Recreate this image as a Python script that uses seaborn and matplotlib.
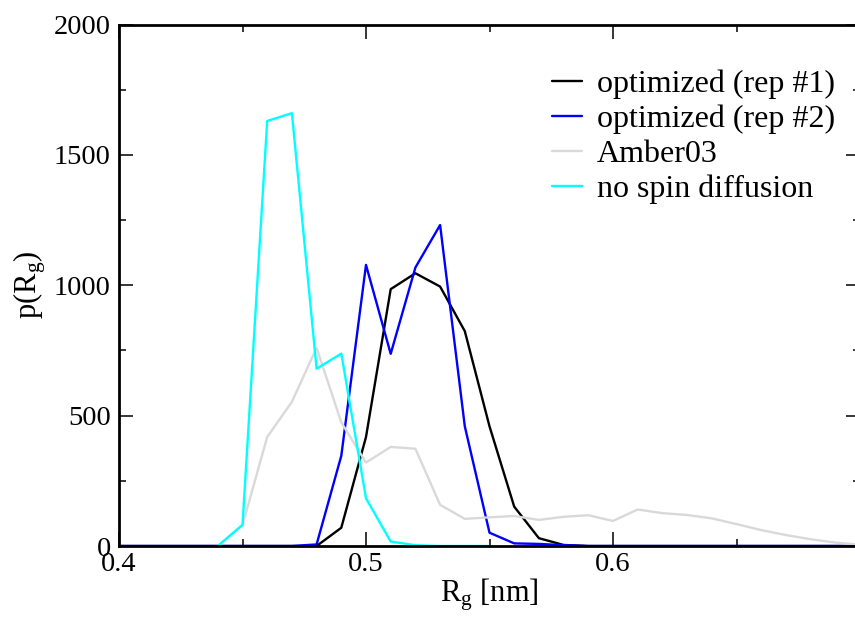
import numpy as np
import pandas as pd
import matplotlib
matplotlib.use('Agg')
import matplotlib.pyplot as plt
import seaborn as sns
from matplotlib.ticker import MultipleLocator

# Rg grid (nm)
rg_opt = [0.40, 0.41, 0.42, 0.43, 0.44, 0.45, 0.46, 0.47, 0.48, 0.49, 0.50,
          0.51, 0.52, 0.53, 0.54, 0.55, 0.56, 0.57, 0.58, 0.59, 0.60,
          0.61, 0.62, 0.63, 0.64, 0.65, 0.66, 0.67, 0.68, 0.69, 0.70]
rep1 = [0, 0, 0, 0, 0, 0, 0, 0, 0, 70, 418,
        985, 1046, 995, 824, 459, 151, 30, 4, 0, 0,
        0, 0, 0, 0, 0, 0, 0, 0, 0, 0]
rep2 = [0, 0, 0, 0, 0, 0, 0, 0, 6, 346, 1078,
        737, 1068, 1231, 459, 51, 10, 8, 3, 0, 0,
        0, 0, 0, 0, 0, 0, 0, 0, 0, 0]

rg_amber = [0.44, 0.45, 0.46, 0.47, 0.48, 0.49, 0.50, 0.51, 0.52, 0.53, 0.54,
            0.55, 0.56, 0.57, 0.58, 0.59, 0.60, 0.61, 0.62, 0.63, 0.64,
            0.65, 0.66, 0.67, 0.68, 0.69, 0.70]
amber03 = [0, 80, 418, 553, 760, 474, 320, 380, 373, 158, 104,
           110, 115, 100, 112, 118, 96, 140, 126, 119, 106,
           84, 61, 42, 26, 13, 5]

rg_nospin = [0.44, 0.45, 0.46, 0.47, 0.48, 0.49, 0.50, 0.51, 0.52, 0.53, 0.54, 0.55]
nospin = [0, 81, 1630, 1660, 680, 738, 183, 17, 3, 0, 0, 0]

labels = ['optimized (rep #1)', 'optimized (rep #2)', 'Amber03', 'no spin diffusion']
colors = ['black', 'blue', '#d9d9d9', 'cyan']

sns.set_style('ticks')
plt.rcParams['font.family'] = ['Liberation Serif', 'DejaVu Serif']
plt.rcParams['mathtext.fontset'] = 'custom'
plt.rcParams['mathtext.rm'] = 'Liberation Serif'
plt.rcParams['mathtext.it'] = 'Liberation Serif:italic'
plt.rcParams['text.color'] = 'black'
plt.rcParams['axes.labelcolor'] = 'black'
plt.rcParams['xtick.color'] = 'black'
plt.rcParams['ytick.color'] = 'black'

fig = plt.figure(figsize=(8.55, 6.18), dpi=100)
# the right spine sits just past the image edge, as in the original
ax = fig.add_axes([119 / 855, 72 / 618, 741 / 855, 521.5 / 618])

series = [(rg_opt, rep1), (rg_opt, rep2), (rg_amber, amber03), (rg_nospin, nospin)]
for (xs, ys), lab, col in zip(series, labels, colors):
    sns.lineplot(x=xs, y=ys, ax=ax, color=col, linewidth=1.7, label=lab)

ax.set_xlim(0.4, 0.7)
ax.set_ylim(0, 2000)
ax.xaxis.set_major_locator(MultipleLocator(0.1))
ax.xaxis.set_minor_locator(MultipleLocator(0.05))
ax.yaxis.set_major_locator(MultipleLocator(500))
ax.yaxis.set_minor_locator(MultipleLocator(250))
ax.set_xticks([0.4, 0.5, 0.6])
ax.set_xticklabels(['0.4', '0.5', '0.6'])
ax.tick_params(which='both', direction='in', top=True, right=True,
               width=1.1, labelsize=20.5, colors='black')
ax.tick_params(axis='x', which='both', pad=4)
ax.tick_params(axis='y', which='both', pad=6)
ax.tick_params(which='major', length=10)
ax.tick_params(which='minor', length=5)
for sp in ax.spines.values():
    sp.set_linewidth(2)
    sp.set_color('black')

ax.set_xlabel(r'R$_\mathrm{g}$ [nm]', fontsize=22, labelpad=0)
ax.set_ylabel(r'p(R$_\mathrm{g}$)', fontsize=22, labelpad=4)

leg = ax.legend(loc='upper left', bbox_to_anchor=(0.584, 0.913), frameon=False,
                fontsize=23, handlelength=0.95, handletextpad=0.47,
                labelspacing=0.17, borderaxespad=0, borderpad=0)
for h in leg.get_lines():
    h.set_linewidth(1.7)

fig.savefig('out.png', dpi=100)
